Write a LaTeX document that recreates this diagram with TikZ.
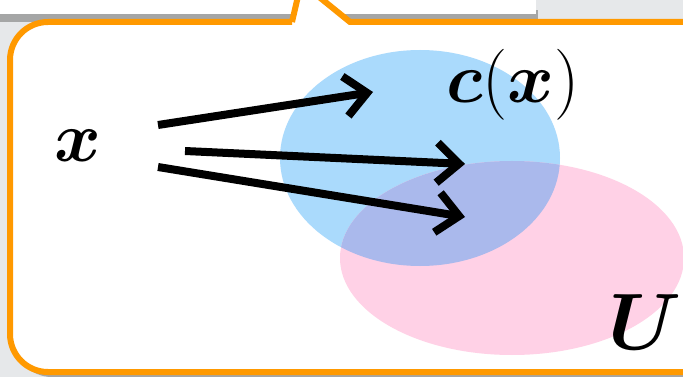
\RequirePackage{fix-cm}
\documentclass[tikz,border=0pt]{standalone}
\usepackage{amsmath}
\usepackage{xcolor}
\usepackage{tikz}
\usetikzlibrary{arrows.meta}
\definecolor{cborange}{HTML}{FF9900}
\definecolor{cbblue}{HTML}{AADAFC}
\definecolor{cbpink}{HTML}{FFD1E6}
\definecolor{cbmix}{HTML}{AAB9EC}
\definecolor{cbpanel}{HTML}{E6E8EA}
\definecolor{cbshade}{HTML}{8A8A8A}

\begin{document}
\begin{tikzpicture}[x=1pt, y=-1pt,
  setlabel/.style={inner sep=0pt, font=\fontsize{71}{80}\selectfont},
  mapsto/.style={line width=8pt, -{Straight Barb[length=22pt, width=40pt]}}]
  \useasboundingbox (0,0) rectangle (683,377);
  \clip (0,0) rectangle (683,377);
  \fill[cbpanel] (0,0) rectangle (683,377);
  \fill[cbshade, opacity=0.7] (0,10) rectangle (538,22);
  \fill[white] (-2,-2) rectangle (536,14);
  \fill[cbshade, opacity=0.7] (52,377) .. controls (31,377) and (14,360) .. (14,339) -- (14,64) -- (700,64) -- (700,377) -- cycle;
  \path[fill=white] (292,22) -- (299,-8) -- (313,-8) -- (350,22) -- (700,22) -- (700,372) -- (48,372) .. controls (27,372) and (10,355) .. (10,334) -- (10,60) .. controls (10,39) and (27,22) .. (48,22) -- cycle;
  \fill[cbblue] (420,158) ellipse [x radius=140, y radius=108];
  \fill[cbpink] (512,258) ellipse [x radius=172, y radius=97];
  \begin{scope}
    \clip (420,158) ellipse [x radius=140, y radius=108];
    \fill[cbmix] (512,258) ellipse [x radius=172, y radius=97];
  \end{scope}
  \draw[cborange, line width=6pt] (292,22) -- (299,-8) (313,-8) -- (350,22) -- (700,22) (700,372) -- (48,372) .. controls (27,372) and (10,355) .. (10,334) -- (10,60) .. controls (10,39) and (27,22) .. (48,22) -- (292,22);
  \node[setlabel] (ptx) at (78,146) {$\boldsymbol{x}$};
  \node[setlabel] (cx) at (513,85) {$\boldsymbol{c}(\boldsymbol{x})$};
  \node[setlabel, font=\fontsize{80}{90}\selectfont] (setU) at (645,322) {$\boldsymbol{U}$};
  \coordinate (a1) at (158,125);
  \coordinate (b1) at (373,92);
  \coordinate (a2) at (185,151);
  \coordinate (b2) at (465,164);
  \coordinate (a3) at (158,167);
  \coordinate (b3) at (465,217);
  \draw[mapsto] (a1) -- (b1);
  \draw[mapsto] (a2) -- (b2);
  \draw[mapsto] (a3) -- (b3);
\end{tikzpicture}
\end{document}
